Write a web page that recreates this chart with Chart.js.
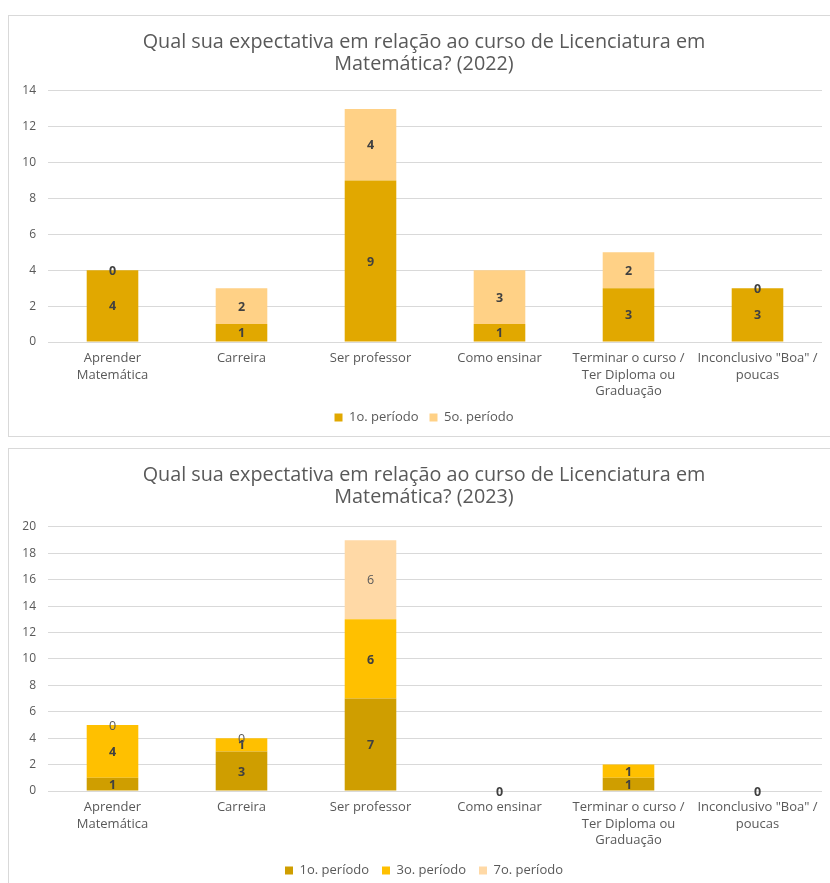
<!DOCTYPE html>
<html>
<head>
<meta charset="utf-8">
<script src="https://cdn.jsdelivr.net/npm/chart.js@4.4.1/dist/chart.umd.min.js"></script>
<style>
    html, body { margin: 0; padding: 0; background: #fff; }
    body { width: 830px; height: 883px; position: relative; overflow: hidden; }
    .box { position: absolute; left: 8px; width: 830px; border: 1px solid #d9d9d9; background: #fff; }
    #box1 { top: 15px; height: 420px; }
    #box2 { top: 448px; height: 440px; }
</style>
</head>
<body>
<div class="box" id="box1"><canvas id="chart2022"></canvas></div>
<div class="box" id="box2"><canvas id="chart2023"></canvas></div>
<script>
/* =========================================================
   DADOS
========================================================= */
const categorias = [
    ['Aprender', 'Matemática'],
    'Carreira',
    'Ser professor',
    'Como ensinar',
    ['Terminar o curso /', 'Ter Diploma ou', 'Graduação'],
    ['Inconclusivo "Boa" /', 'poucas']
];

// 2022
const p1_2022 = [4, 1, 9, 1, 3, 3];
const p5_2022 = [0, 2, 4, 3, 2, 0];

// 2023
const p1_2023 = [1, 3, 7, 0, 1, 0];
const p3_2023 = [4, 1, 6, null, 1, null];
const p7_2023 = [0, 0, 6, null, null, null];

const titulo2022 = ['Qual sua expectativa em relação ao curso de Licenciatura em', 'Matemática? (2022)'];
const titulo2023 = ['Qual sua expectativa em relação ao curso de Licenciatura em', 'Matemática? (2023)'];

/* =========================================================
   RÓTULOS DE DADOS (plugin simples)
========================================================= */
const rotulos = {
    id: 'rotulos',
    afterDatasetsDraw(chart) {
        const ctx = chart.ctx;
        chart.data.datasets.forEach((ds, i) => {
            const meta = chart.getDatasetMeta(i);
            if (meta.hidden) return;
            meta.data.forEach((el, j) => {
                const v = ds.data[j];
                if (v === null || v === undefined) return;
                ctx.save();
                ctx.font = ds.labelFont || 'bold 12.5px "Open Sans", sans-serif';
                ctx.fillStyle = ds.labelColor || '#404040';
                ctx.textAlign = 'center';
                ctx.textBaseline = 'middle';
                ctx.fillText(String(v), el.x, (el.y + el.base) / 2 + 1);
                ctx.restore();
            });
        });
    }
};

Chart.defaults.font.family = '"Open Sans", sans-serif';
Chart.defaults.color = '#595959';

function opcoes(titulo, max, tituloTopo, tituloBase, alturaX, legendaPad) {
    return {
        responsive: true,
        maintainAspectRatio: false,
        animation: false,
        layout: { padding: { left: 0, right: 0, top: 0, bottom: 2 } },
        plugins: {
            title: {
                display: true,
                text: titulo,
                color: '#595959',
                font: { size: 19.8, weight: 'normal', lineHeight: 1.11 },
                padding: { top: tituloTopo, bottom: tituloBase }
            },
            legend: {
                position: 'bottom',
                labels: {
                    boxWidth: 8,
                    boxHeight: 8,
                    font: { size: 13 },
                    color: '#595959',
                    padding: legendaPad
                }
            },
            tooltip: { enabled: false }
        },
        scales: {
            x: {
                stacked: true,
                grid: { display: false, drawTicks: false },
                border: { display: false },
                ticks: {
                    maxRotation: 0, autoSkip: false, color: '#595959', padding: 7.5,
                    font: { size: 13, lineHeight: 1.3 }
                },
                afterFit: axis => { axis.height = alturaX; }
            },
            y: {
                stacked: true,
                min: 0,
                max: max,
                border: { display: false },
                grid: { color: '#d9d9d9', drawTicks: false, lineWidth: 1 },
                ticks: { stepSize: 2, font: { size: 12 }, color: '#595959', padding: 12 },
                afterFit: axis => { axis.width = 39; }
            },
            // margem direita da área de plotagem (eixo vazio)
            margem: {
                type: 'linear',
                position: 'right',
                display: true,
                grid: { display: false },
                border: { display: false },
                ticks: { display: false },
                afterFit: axis => { axis.width = 17; }
            }
        }
    };
}

/* =========================================================
   GRÁFICO 2022
========================================================= */
new Chart(document.getElementById('chart2022'), {
    type: 'bar',
    data: {
        labels: categorias,
        datasets: [
            {
                label: '1o. período',
                data: p1_2022,
                backgroundColor: '#E1A800',
                barPercentage: 0.4,
                categoryPercentage: 1
            },
            {
                label: '5o. período',
                data: p5_2022,
                backgroundColor: '#FFD186',
                barPercentage: 0.4,
                categoryPercentage: 1
            }
        ]
    },
    options: opcoes(titulo2022, 14, 15, 16, 58, 11),
    plugins: [rotulos]
});

/* =========================================================
   GRÁFICO 2023
========================================================= */
new Chart(document.getElementById('chart2023'), {
    type: 'bar',
    data: {
        labels: categorias,
        datasets: [
            {
                label: '1o. período',
                data: p1_2023,
                backgroundColor: '#CF9E00',
                barPercentage: 0.4,
                categoryPercentage: 1
            },
            {
                label: '3o. período',
                data: p3_2023,
                backgroundColor: '#FFC000',
                barPercentage: 0.4,
                categoryPercentage: 1
            },
            {
                label: '7o. período',
                data: p7_2023,
                backgroundColor: '#FFD9A6',
                barPercentage: 0.4,
                categoryPercentage: 1,
                labelFont: '12.5px "Open Sans", sans-serif',
                labelColor: '#595959'
            }
        ]
    },
    options: opcoes(titulo2023, 20, 15, 19, 60, 13),
    plugins: [rotulos]
});
</script>
</body>
</html>
